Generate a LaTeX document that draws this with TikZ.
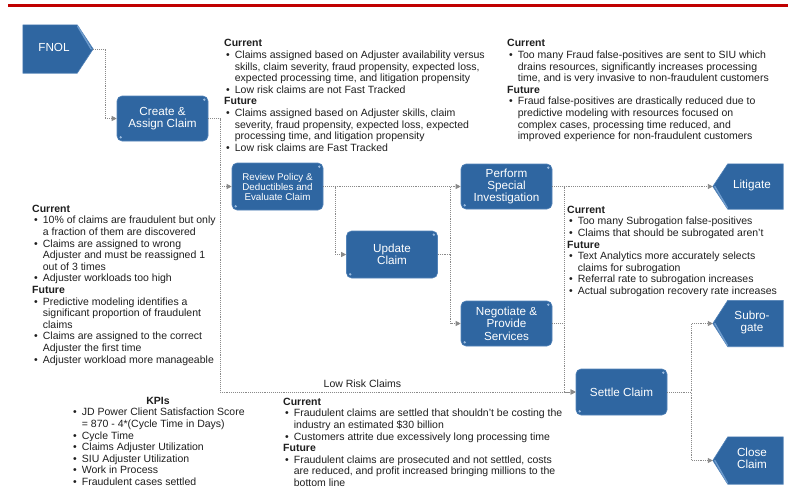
\documentclass[tikz,border=0pt]{standalone}
\usepackage{fontspec}
\setmainfont{Liberation Sans}
\usetikzlibrary{arrows.meta,calc,backgrounds}

\definecolor{boxblue}{HTML}{2F66A1}
\definecolor{boxedge}{HTML}{5383B8}
\definecolor{boxdot}{HTML}{9BBBE0}
\definecolor{bevel}{HTML}{6E9BCC}
\definecolor{rulered}{HTML}{C00000}
\definecolor{connline}{HTML}{8A8A8A}
\definecolor{txt}{HTML}{1E1E1E}

% rows of the note tables
\newcommand{\hd}[1]{\multicolumn{2}{@{}l@{}}{\textbf{#1}}\\}
\newcommand{\bl}[1]{\textbullet & #1\\}
\newcommand{\cl}[1]{ & #1\\}
% labels of the arrow-shaped ends, kept clear of the pointer
\newcommand{\padleft}[1]{\begin{tabular}{@{\hspace{8pt}}c@{}}#1\end{tabular}}
\newcommand{\padright}[1]{\begin{tabular}{@{}c@{\hspace{8pt}}}#1\end{tabular}}

\begin{document}
\begin{tikzpicture}[x=1pt,y=-1pt,
  stepbox/.style={rectangle, rounded corners=5pt, fill=boxblue, draw=boxedge,
    line width=0.6pt, text=white, align=center, inner sep=1pt,
    minimum width=91pt, minimum height=46pt,
    font=\fontsize{11.7}{12}\selectfont},
  endbox/.style={rectangle, text=white, inner sep=0pt,
    minimum width=70pt, minimum height=47pt,
    font=\fontsize{11.7}{12}\selectfont},
  endfill/.style={fill=boxblue, draw=boxedge, line width=0.6pt, line join=miter},
  note/.style={anchor=north west, inner sep=0pt, text=txt,
    font=\fontsize{10.5}{11.6}\selectfont},
  conn/.style={densely dotted, connline, line width=0.9pt,
    -{Triangle[length=5pt,width=5pt]}},
  link/.style={densely dotted, connline, line width=0.9pt},
  bevelline/.style={bevel, line width=1.4pt, line cap=round},
]
\useasboundingbox (0,0) rectangle (788,491);

% red header rule
\fill[rulered] (8,4) rectangle (788,7);

% process steps
\node[endbox, minimum height=48pt] (fnol) at (58,49) {\padright{FNOL}};
\node[stepbox, minimum height=45pt] (create) at (162.5,118.5) {Create \&\\Assign Claim};
\node[stepbox, minimum height=47pt, font=\fontsize{9.8}{10}\selectfont] (review) at (277.5,186.5)
  {Review Policy \&\\Deductibles and\\Evaluate Claim};
\node[stepbox, minimum height=47pt] (update) at (392,254.5) {Update\\Claim};
\node[stepbox, minimum height=45pt] (perform) at (506.5,186.5)
  {Perform\\Special\\Investigation};
\node[stepbox, minimum height=45pt, font=\fontsize{11.7}{12.5}\selectfont] (negotiate) at (506.5,323.5)
  {Negotiate \&\\Provide\\Services};
\node[stepbox] (settle) at (621.5,392) {Settle Claim};
\node[endbox, minimum height=45pt] (litigate) at (748,186.5) {\padleft{Litigate}};
\node[endbox, minimum height=46pt] (subro) at (748,323.5) {\padleft{Subro-\\gate}};
\node[endbox] (close) at (748,460.5) {\padleft{Close\\Claim}};

% arrow-shaped ends: filled behind their labels
\begin{pgfonlayer}{background}
  \draw[endfill] (fnol.north west) -- ($(fnol.north east)+(-16,0)$) -- (fnol.east)
    -- ($(fnol.south east)+(-16,0)$) -- (fnol.south west) -- cycle;
  \draw[bevelline] ($(fnol.north east)+(-15.5,1.5)$) -- ($(fnol.east)+(-2,0)$);
  \foreach \n in {litigate,subro,close}{
    \draw[endfill] (\n.north east) -- ($(\n.north west)+(15,0)$) -- (\n.west)
      -- ($(\n.south west)+(15,0)$) -- (\n.south east) -- cycle;
    \draw[bevelline] ($(\n.south west)+(14.5,-1.5)$) -- ($(\n.west)+(2,0)$);
  }
\end{pgfonlayer}

% small corner highlights on the step boxes
\foreach \n in {create,review,update,perform,negotiate,settle}{
  \fill[boxdot] ($(\n.north east)+(-4,4)$) circle (1.3pt);
  \fill[boxdot] ($(\n.south west)+(4,-4)$) circle (1.3pt);
}

% connectors
\draw[conn] (fnol.east) -- ++(12,0) |- (create.west);
\draw[conn] (create.east) -- ++(12,0) |- (review.west);
\draw[conn] (create.east) -- ++(12,0) |- (settle.west)
  node[pos=0.70, above=1pt, text=txt, font=\fontsize{10.5}{11.6}\selectfont] (lowrisk) {Low Risk Claims};
\draw[conn] (review.east) -- (perform.west);
\draw[conn] (review.east) -- ++(12,0) |- (update.west);
\draw[conn] (update.east) -- ++(13,0) coordinate (split) |- (negotiate.west);
\draw[link] (split) -- (split |- perform.west);
\draw[conn] (perform.east) -- (litigate.west);
\draw[conn] (perform.east) -- ++(12,0) |- (settle.west);
\draw[link] (negotiate.east) -- ++(12,0);
\draw[conn] (settle.east) -- ++(24,0) |- (subro.west);
\draw[conn] (settle.east) -- ++(24,0) |- (close.west);

% notes
\node[note] (n1) at (224,38.6) {\begin{tabular}{@{\hspace{2pt}}l@{\hspace{5pt}}l@{}}
\hd{Current}
\bl{Claims assigned based on Adjuster availability versus}
\cl{skills, claim severity, fraud propensity, expected loss,}
\cl{expected processing time, and litigation propensity}
\bl{Low risk claims are not Fast Tracked}
\hd{Future}
\bl{Claims assigned based on Adjuster skills, claim}
\cl{severity, fraud propensity, expected loss, expected}
\cl{processing time, and litigation propensity}
\bl{Low risk claims are Fast Tracked}
\end{tabular}};

\node[note] (n2) at (507,38.6) {\begin{tabular}{@{\hspace{2pt}}l@{\hspace{5pt}}l@{}}
\hd{Current}
\bl{Too many Fraud false-positives are sent to SIU which}
\cl{drains resources, significantly increases processing}
\cl{time, and is very invasive to non-fraudulent customers}
\hd{Future}
\bl{Fraud false-positives are drastically reduced due to}
\cl{predictive modeling with resources focused on}
\cl{complex cases, processing time reduced, and}
\cl{improved experience for non-fraudulent customers}
\end{tabular}};

\node[note] (n3) at (32,204) {\begin{tabular}{@{\hspace{2pt}}l@{\hspace{5pt}}l@{}}
\hd{Current}
\bl{10\% of claims are fraudulent but only}
\cl{a fraction of them are discovered}
\bl{Claims are assigned to wrong}
\cl{Adjuster and must be reassigned 1}
\cl{out of 3 times}
\bl{Adjuster workloads too high}
\hd{Future}
\bl{Predictive modeling identifies a}
\cl{significant proportion of fraudulent}
\cl{claims}
\bl{Claims are assigned to the correct}
\cl{Adjuster the first time}
\bl{Adjuster workload more manageable}
\end{tabular}};

\node[note] (n4) at (567,205) {\begin{tabular}{@{\hspace{2pt}}l@{\hspace{5pt}}l@{}}
\hd{Current}
\bl{Too many Subrogation false-positives}
\bl{Claims that should be subrogated aren’t}
\hd{Future}
\bl{Text Analytics more accurately selects}
\cl{claims for subrogation}
\bl{Referral rate to subrogation increases}
\bl{Actual subrogation recovery rate increases}
\end{tabular}};

\node[note] (n5) at (283,397) {\begin{tabular}{@{\hspace{2pt}}l@{\hspace{5pt}}l@{}}
\hd{Current}
\bl{Fraudulent claims are settled that shouldn’t be costing the}
\cl{industry an estimated \$30 billion}
\bl{Customers attrite due excessively long processing time}
\hd{Future}
\bl{Fraudulent claims are prosecuted and not settled, costs}
\cl{are reduced, and profit increased bringing millions to the}
\cl{bottom line}
\end{tabular}};

\node[note] (kpi) at (71,396) {\begin{tabular}{@{\hspace{2pt}}l@{\hspace{5pt}}l@{}}
\multicolumn{2}{@{}c@{}}{\textbf{KPIs}}\\
\bl{JD Power Client Satisfaction Score}
\cl{= 870 - 4*(Cycle Time in Days)}
\bl{Cycle Time}
\bl{Claims Adjuster Utilization}
\bl{SIU Adjuster Utilization}
\bl{Work in Process}
\bl{Fraudulent cases settled}
\end{tabular}};
\end{tikzpicture}
\end{document}
